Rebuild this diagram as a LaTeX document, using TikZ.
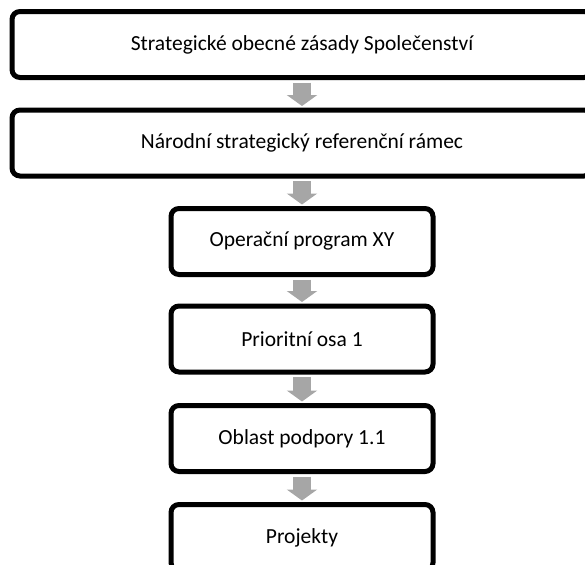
\documentclass[tikz,border=0pt]{standalone}
\usepackage{fontspec}
\setmainfont{Carlito}
\usetikzlibrary{arrows.meta}
\begin{document}
\begin{tikzpicture}[
    stagebox/.style={draw, line width=0.125cm, rounded corners=0.2cm,
        minimum height=1.650000cm, inner sep=0pt, outer sep=0pt,
        font=\fontsize{15.3}{18}\selectfont},
    widebox/.style={stagebox, minimum width=14.500000cm},
    narrowbox/.style={stagebox, minimum width=6.550000cm},
    downarrow/.style={draw=arrowgray, line width=0.450000cm, line cap=butt,
        shorten <=0.125cm, shorten >=0.100cm,
        -{Triangle[width=0.750000cm, length=0.275000cm]}}
    ]
            \definecolor{arrowgray}{HTML}{A6A6A6}
            \useasboundingbox (0,0) rectangle (14.625000,14.100000);

            % Box for the Community strategic guidelines
            \node [widebox] (guidelines) at (7.550000,12.987500) {Strategické obecné zásady Společenství};%

            % Box for the national reference framework
            \node [widebox] (framework) at (7.550000,10.525000) {Národní strategický referenční rámec};%

            % Box for the operational programme
            \node [narrowbox] (programme) at (7.550000,8.062500) {Operační program XY};%

            % Box for the priority axis
            \node [narrowbox] (axis) at (7.550000,5.625000) {Prioritní osa 1};%

            % Box for the support area
            \node [narrowbox] (area) at (7.550000,3.137500) {Oblast podpory 1.1};%

            % Box for the projects
            \node [narrowbox] (projects) at (7.550000,0.662500) {Projekty};%

            % Drawing arrows between the boxes
            \draw [downarrow] (guidelines) -- (framework);%
            \draw [downarrow] (framework) -- (programme);%
            \draw [downarrow] (programme) -- (axis);%
            \draw [downarrow] (axis) -- (area);%
            \draw [downarrow] (area) -- (projects);%
\end{tikzpicture}
\end{document}
